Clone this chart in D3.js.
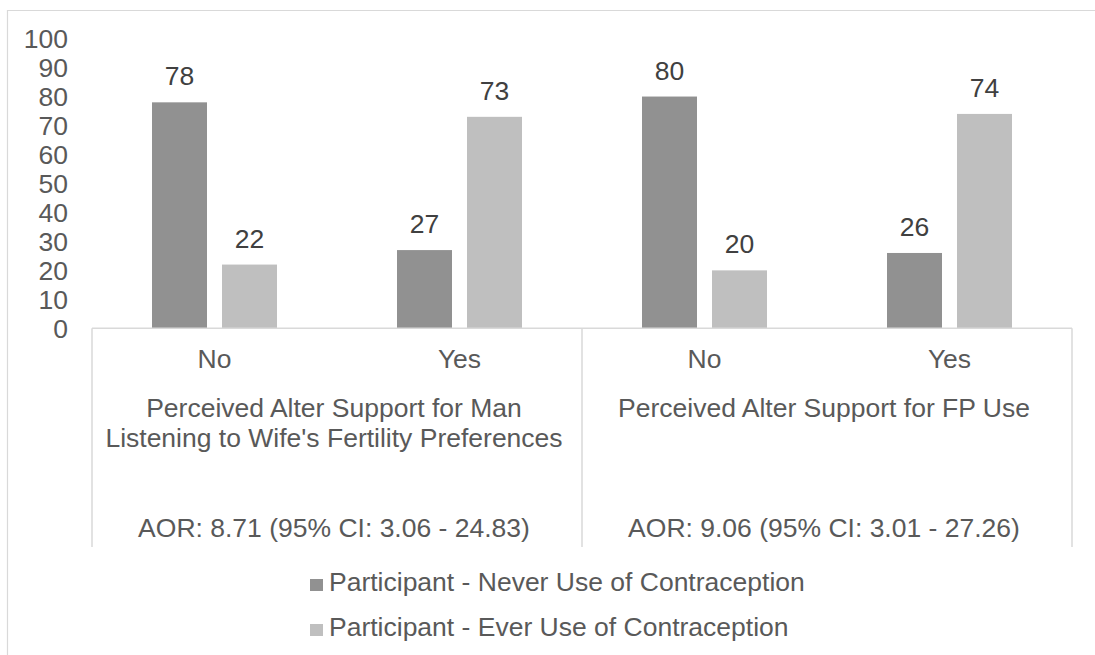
<!DOCTYPE html>
<html>
<head>
<meta charset="utf-8">
<script src="https://cdn.jsdelivr.net/npm/d3@7"></script>
<style>
  html, body { margin: 0; padding: 0; background: #fff; }
  svg { display: block; font-family: "Liberation Sans", Arial, sans-serif; }
</style>
</head>
<body>
<svg id="chart" width="1095" height="655"></svg>
<script>
// ---- data ----
const groupLabels = [
  ["Perceived Alter Support for Man", "Listening to Wife's Fertility Preferences"],
  ["Perceived Alter Support for FP Use"]
];
const aorLabels = ["AOR: 8.71 (95% CI: 3.06 - 24.83)", "AOR: 9.06 (95% CI: 3.01 - 27.26)"];
const subCategories = ["No", "Yes"];
const categories = ["g0-No", "g0-Yes", "g1-No", "g1-Yes"];
const seriesNames = ["Participant - Never Use of Contraception", "Participant - Ever Use of Contraception"];
const neverUse = [78, 27, 80, 26];
const everUse = [22, 73, 20, 74];
const yTicks = [0, 10, 20, 30, 40, 50, 60, 70, 80, 90, 100];

// ---- layout ----
const svg = d3.select("#chart");
const colors = ["#919191", "#bfbfbf"];
const gridColor = "#d9d9d9";
const textColor = "#595959";
const fontSize = 26.5;
const plotLeft = 92, plotRight = 1072, yZero = 328.3, yTop = 38.6, boxBottom = 547;

// outer frame (left and top visible)
svg.append("line").attr("x1", 7.5).attr("x2", 7.5).attr("y1", 10).attr("y2", 655)
  .attr("stroke", gridColor).attr("stroke-width", 1.2);
svg.append("line").attr("x1", 7).attr("x2", 1095).attr("y1", 10.5).attr("y2", 10.5)
  .attr("stroke", gridColor).attr("stroke-width", 1.2);

const x = d3.scaleBand().domain(categories).range([plotLeft, plotRight]).padding(0);
const xInner = d3.scaleBand().domain(seriesNames).range([0, x.bandwidth()])
  .paddingInner(15 / 70).paddingOuter(60 / 70);
const y = d3.scaleLinear().domain([0, 100]).range([yZero, yTop]);

// y axis labels
const yAxis = d3.axisLeft(y).tickValues(yTicks).tickSize(0).tickPadding(0);
const yG = svg.append("g").attr("transform", "translate(68,0)").call(yAxis);
yG.select(".domain").remove();
yG.selectAll("text").attr("fill", textColor).attr("font-size", fontSize)
  .attr("font-family", '"Liberation Sans", Arial, sans-serif').attr("dy", "0.35em").attr("x", 0);

// bars
const seriesData = [neverUse, everUse];
seriesData.forEach((vals, si) => {
  const gS = svg.append("g");
  gS.selectAll("rect").data(vals).join("rect")
    .attr("x", (d, i) => x(categories[i]) + xInner(seriesNames[si]))
    .attr("y", d => y(d))
    .attr("width", xInner.bandwidth())
    .attr("height", d => y(0) - y(d))
    .attr("fill", colors[si]);
  gS.selectAll("text").data(vals).join("text")
    .attr("x", (d, i) => x(categories[i]) + xInner(seriesNames[si]) + xInner.bandwidth() / 2)
    .attr("y", d => y(d) - 17)
    .attr("text-anchor", "middle")
    .attr("font-size", fontSize)
    .attr("fill", "#404040")
    .text(d => d);
});

// category axis box
svg.append("line").attr("x1", plotLeft).attr("x2", plotRight).attr("y1", yZero).attr("y2", yZero)
  .attr("stroke", gridColor).attr("stroke-width", 1.5);
[plotLeft, x("g1-No"), plotRight].forEach(px => {
  svg.append("line").attr("x1", px).attr("x2", px).attr("y1", yZero).attr("y2", boxBottom)
    .attr("stroke", gridColor).attr("stroke-width", 1.5);
});

// sub category labels
svg.append("g").selectAll("text").data(categories).join("text")
  .attr("x", d => x(d) + x.bandwidth() / 2)
  .attr("y", 368)
  .attr("text-anchor", "middle")
  .attr("font-size", fontSize)
  .attr("fill", textColor)
  .text((d, i) => subCategories[i % 2]);

// group labels
groupLabels.forEach((lines, gi) => {
  const cx = x(categories[gi * 2]) + x.bandwidth() - 3;
  const t = svg.append("text").attr("text-anchor", "middle").attr("font-size", fontSize).attr("fill", textColor);
  lines.forEach((ln, li) => {
    t.append("tspan").attr("x", cx).attr("y", 417 + li * 30).text(ln);
  });
  svg.append("text").attr("x", cx).attr("y", 537).attr("text-anchor", "middle")
    .attr("font-size", fontSize).attr("fill", textColor).text(aorLabels[gi]);
});

// legend
const legend = svg.append("g");
seriesNames.forEach((name, i) => {
  const ly = 591 + i * 45;
  legend.append("rect").attr("x", 310).attr("y", ly - 12).attr("width", 13).attr("height", 12).attr("fill", colors[i]);
  legend.append("text").attr("x", 329).attr("y", ly).attr("font-size", fontSize).attr("fill", textColor).text(name);
});
</script>
</body>
</html>
